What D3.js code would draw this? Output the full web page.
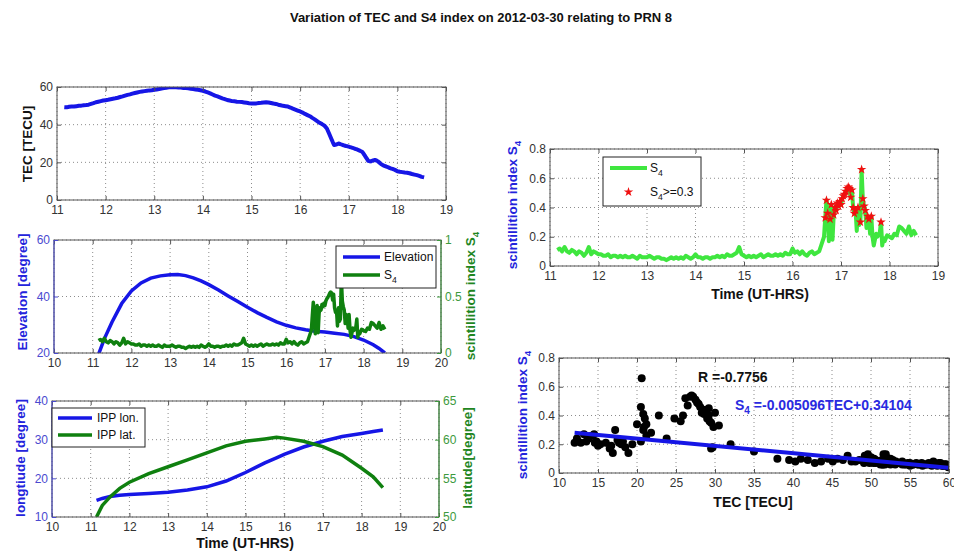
<!DOCTYPE html>
<html>
<head>
<meta charset="utf-8">
<script src="https://cdn.jsdelivr.net/npm/d3@7"></script>
<style>
body { margin: 0; background: #fff; }
text { font-family: "Liberation Sans", Arial, sans-serif; }
</style>
</head>
<body>
<div class="vis-prn8"></div>
<script>
// ---- data ----
const timeHrs = [
    11.15, 11.20, 11.25, 11.30, 11.35, 11.40, 11.45, 11.50, 11.55, 11.60,
    11.65, 11.70, 11.75, 11.80, 11.85, 11.90, 11.95, 12.00, 12.05, 12.10,
    12.15, 12.20, 12.25, 12.30, 12.35, 12.40, 12.45, 12.50, 12.55, 12.60,
    12.65, 12.70, 12.75, 12.80, 12.85, 12.90, 12.95, 13.00, 13.05, 13.10,
    13.15, 13.20, 13.25, 13.30, 13.35, 13.40, 13.45, 13.50, 13.55, 13.60,
    13.65, 13.70, 13.75, 13.80, 13.85, 13.90, 13.95, 14.00, 14.05, 14.10,
    14.15, 14.20, 14.25, 14.30, 14.35, 14.40, 14.45, 14.50, 14.55, 14.60,
    14.65, 14.70, 14.75, 14.80, 14.85, 14.90, 14.95, 15.00, 15.05, 15.10,
    15.15, 15.20, 15.25, 15.30, 15.35, 15.40, 15.45, 15.50, 15.55, 15.60,
    15.65, 15.70, 15.75, 15.80, 15.85, 15.90, 15.95, 16.00, 16.05, 16.10,
    16.15, 16.20, 16.25, 16.30, 16.35, 16.40, 16.45, 16.50, 16.55, 16.60,
    16.65,
    16.675, 16.700, 16.725, 16.750, 16.775, 16.800, 16.825, 16.850, 16.875, 16.900,
    16.925, 16.950, 16.975, 17.000, 17.025, 17.050, 17.075, 17.100, 17.125, 17.150,
    17.175, 17.200, 17.225, 17.250, 17.275, 17.300, 17.325, 17.350, 17.375, 17.400,
    17.425, 17.450, 17.475, 17.500, 17.525, 17.550, 17.575, 17.600, 17.625, 17.650,
    17.675, 17.700, 17.725, 17.750, 17.775, 17.800, 17.825, 17.850, 17.875, 17.900,
    17.95, 18.00, 18.05, 18.10, 18.15, 18.20, 18.25, 18.30, 18.35, 18.40,
    18.45, 18.50, 18.55
];
const tecTecu = [
    49.3, 49.2, 49.5, 49.6, 49.6, 49.8, 50.0, 50.1, 50.3, 50.4,
    50.6, 51.0, 51.4, 51.9, 52.2, 52.5, 52.8, 53.0, 53.2, 53.5,
    53.8, 54.0, 54.3, 54.7, 55.0, 55.4, 55.8, 56.1, 56.5, 56.8,
    57.1, 57.4, 57.6, 57.8, 58.0, 58.2, 58.3, 58.5, 58.7, 58.9,
    59.2, 59.4, 59.6, 59.8, 59.9, 59.9, 59.8, 59.7, 59.7, 59.5,
    59.4, 59.3, 59.1, 58.9, 58.7, 58.5, 58.3, 58.0, 57.6, 57.1,
    56.6, 56.0, 55.4, 55.0, 54.5, 54.0, 53.6, 53.1, 52.8, 52.5,
    52.4, 52.2, 52.1, 52.0, 51.8, 51.6, 51.4, 51.3, 51.2, 51.3,
    51.5, 51.6, 51.8, 51.9, 51.8, 51.5, 51.2, 51.0, 50.6, 50.3,
    50.0, 49.8, 49.6, 49.1, 48.5, 48.0, 47.5, 47.0, 46.4, 45.7,
    45.1, 44.5, 43.6, 42.8, 41.9, 41.0, 40.3, 39.5, 38.0, 35.0,
    32.0,
    30.5, 29.2, 29.3, 29.5, 29.8, 30.0, 29.7, 29.5, 29.2, 29.0,
    28.8, 28.6, 28.5, 28.3, 28.1, 27.9, 27.7, 27.5, 27.2, 27.0,
    26.8, 26.5, 26.2, 25.9, 25.6, 24.8, 23.8, 22.8, 21.8, 20.8,
    20.6, 20.5, 20.8, 21.0, 21.2, 21.2, 20.9, 20.5, 20.0, 19.4,
    18.9, 18.5, 18.2, 18.0, 17.7, 17.5, 17.2, 16.9, 16.7, 16.5,
    16.0, 15.3, 15.0, 14.8, 14.6, 14.5, 14.2, 13.8, 13.5, 13.2,
    12.8, 12.3, 12.0
];
const s4Index = [
    0.11, 0.12, 0.10, 0.13, 0.10, 0.09, 0.11, 0.10, 0.08, 0.10,
    0.09, 0.07, 0.09, 0.13, 0.08, 0.10, 0.09, 0.08, 0.08, 0.07,
    0.07, 0.08, 0.06, 0.07, 0.07, 0.06, 0.07, 0.06, 0.07, 0.06,
    0.06, 0.07, 0.06, 0.05, 0.07, 0.06, 0.06, 0.06, 0.07, 0.06,
    0.05, 0.06, 0.06, 0.05, 0.05, 0.04, 0.05, 0.06, 0.05, 0.06,
    0.05, 0.06, 0.05, 0.07, 0.06, 0.05, 0.06, 0.08, 0.06, 0.06,
    0.05, 0.06, 0.06, 0.05, 0.06, 0.06, 0.07, 0.06, 0.07, 0.06,
    0.08, 0.07, 0.07, 0.08, 0.09, 0.13, 0.08, 0.07, 0.06, 0.07,
    0.06, 0.07, 0.06, 0.07, 0.08, 0.06, 0.07, 0.08, 0.07, 0.07,
    0.08, 0.07, 0.08, 0.07, 0.09, 0.08, 0.08, 0.12, 0.09, 0.10,
    0.08, 0.10, 0.08, 0.07, 0.09, 0.10, 0.08, 0.09, 0.10, 0.15,
    0.20,
    0.33, 0.45, 0.36, 0.17, 0.32, 0.42, 0.18, 0.35, 0.40, 0.38,
    0.43, 0.41, 0.44, 0.42, 0.46, 0.48, 0.49, 0.51, 0.53, 0.54,
    0.53, 0.47, 0.52, 0.40, 0.36, 0.38, 0.24, 0.40, 0.28, 0.30,
    0.66, 0.46, 0.41, 0.38, 0.26, 0.34, 0.32, 0.22, 0.34, 0.20,
    0.14, 0.18, 0.22, 0.20, 0.21, 0.23, 0.30, 0.14, 0.19, 0.17,
    0.21, 0.20, 0.19, 0.22, 0.21, 0.27, 0.26, 0.24, 0.22, 0.27,
    0.21, 0.24, 0.21
];

const elevTime = [11.15, 11.3, 11.5, 11.75, 12.0, 12.25, 12.5, 12.75, 13.0, 13.2, 13.4, 13.6, 13.8, 14.0, 14.25, 14.5,
    14.75, 15.0, 15.25, 15.5, 15.75, 16.0, 16.25, 16.5, 16.75, 17.0, 17.25, 17.5, 17.75, 18.0, 18.25, 18.4, 18.55];
const elevDeg = [19.5, 25.0, 31.0, 37.5, 42.0, 44.8, 46.5, 47.3, 47.7, 47.8, 47.4, 46.6, 45.5, 44.2, 42.3, 40.2,
    38.2, 36.2, 34.3, 32.6, 31.0, 29.8, 28.9, 28.2, 27.7, 27.4, 27.0, 26.6, 25.8, 24.6, 22.9, 21.6, 20.0];

const ippTime = [11.15, 11.3, 11.5, 11.75, 12.0, 12.5, 13.0, 13.5, 14.0, 14.5, 15.0, 15.5, 15.8, 16.0, 16.5, 17.0, 17.5, 18.0, 18.3, 18.55];
const ippLon = [14.3, 14.8, 15.3, 15.6, 15.8, 16.1, 16.4, 17.0, 17.8, 19.3, 21.5, 24.0, 25.3, 26.2, 28.1, 29.6, 30.8, 31.6, 32.1, 32.5];
const ippLat = [50.0, 51.5, 52.6, 53.7, 54.5, 55.6, 56.5, 57.4, 58.3, 59.2, 59.8, 60.1, 60.3, 60.2, 59.8, 59.1, 58.0, 56.3, 55.2, 53.8];

const s4Threshold = 0.3;
const fitSlope = -0.005096;
const fitIntercept = 0.34104;
const corrR = -0.7756;

const ticks = {
    hours8: [11, 12, 13, 14, 15, 16, 17, 18, 19],
    hours10: [10, 11, 12, 13, 14, 15, 16, 17, 18, 19, 20],
    tec: [0, 20, 40, 60],
    elev: [20, 40, 60],
    s4Right: [0, 0.5, 1],
    lon: [10, 20, 30, 40],
    lat: [50, 55, 60, 65],
    s4: [0, 0.2, 0.4, 0.6, 0.8],
    tecX: [10, 15, 20, 25, 30, 35, 40, 45, 50, 55, 60]
};

// ---- colours ----
const GRID = '#8c8c8c';
const BOX = '#555';
const TXT = '#333';
const AX_BLUE = '#4a4ad0';
const AX_GREEN = '#3d9a3d';
const LBL_BLUE = '#2323dc';
const LBL_GREEN = '#1f861f';
const LINE_BLUE = '#1616e6';
const DARK_GREEN = '#0f800f';
const BRIGHT_GREEN = '#3fe63f';

const svg = d3.select('.vis-prn8').append('svg')
    .attr('width', 954)
    .attr('height', 555);

const rows = timeHrs.map((t, i) => ({ t: t, tec: tecTecu[i], s4: s4Index[i] }));

function panel(cfg) {
    const b = cfg.box;
    const x = d3.scaleLinear().domain(cfg.xDomain).range([b.left, b.right]);
    const y = d3.scaleLinear().domain(cfg.yDomain).range([b.bottom, b.top]);
    const y2 = cfg.y2Domain ? d3.scaleLinear().domain(cfg.y2Domain).range([b.bottom, b.top]) : null;
    const g = svg.append('g').attr('class', 'panel-' + cfg.name);

    // dotted grid
    g.append('g').selectAll('line').data(cfg.xTicks).join('line')
        .attr('x1', d => x(d)).attr('x2', d => x(d))
        .attr('y1', b.top).attr('y2', b.bottom)
        .attr('stroke', GRID).attr('stroke-dasharray', '1,3');
    g.append('g').selectAll('line').data(cfg.yTicks).join('line')
        .attr('y1', d => y(d)).attr('y2', d => y(d))
        .attr('x1', b.left).attr('x2', b.right)
        .attr('stroke', GRID).attr('stroke-dasharray', '1,3');

    g.append('clipPath').attr('id', 'clip-' + cfg.name)
        .append('rect')
        .attr('x', b.left).attr('y', b.top)
        .attr('width', b.right - b.left).attr('height', b.bottom - b.top);
    const plot = g.append('g').attr('clip-path', 'url(#clip-' + cfg.name + ')');

    return { g, plot, x, y, y2, b, cfg };
}

function styleAxis(sel, color, lineColor) {
    sel.attr('font-size', 12).attr('font-family', '"Liberation Sans", Arial, sans-serif');
    sel.select('.domain').remove();
    sel.selectAll('.tick line').attr('stroke', lineColor || BOX);
    sel.selectAll('.tick text').attr('fill', color);
}

function axes(p) {
    const b = p.b, cfg = p.cfg;
    const fmt = d => String(d);
    const leftColor = cfg.y2Domain ? AX_BLUE : TXT;

    p.g.append('rect')
        .attr('x', b.left).attr('y', b.top)
        .attr('width', b.right - b.left).attr('height', b.bottom - b.top)
        .attr('fill', 'none').attr('stroke', BOX);

    p.g.append('g').attr('transform', 'translate(0,' + b.bottom + ')')
        .call(d3.axisBottom(p.x).tickValues(cfg.xTicks).tickFormat(fmt).tickSizeInner(-4).tickSizeOuter(0).tickPadding(5))
        .call(s => styleAxis(s, TXT));
    p.g.append('g').attr('transform', 'translate(0,' + b.top + ')')
        .call(d3.axisTop(p.x).tickValues(cfg.xTicks).tickFormat('').tickSizeInner(-4).tickSizeOuter(0))
        .call(s => styleAxis(s, TXT));

    p.g.append('g').attr('transform', 'translate(' + b.left + ',0)')
        .call(d3.axisLeft(p.y).tickValues(cfg.yTicks).tickFormat(fmt).tickSizeInner(-4).tickSizeOuter(0).tickPadding(4))
        .call(s => styleAxis(s, leftColor, cfg.y2Domain ? AX_BLUE : BOX));

    if (p.y2) {
        p.g.append('g').attr('transform', 'translate(' + b.right + ',0)')
            .call(d3.axisRight(p.y2).tickValues(cfg.y2Ticks).tickFormat(fmt).tickSizeInner(-4).tickSizeOuter(0).tickPadding(4))
            .call(s => styleAxis(s, AX_GREEN, AX_GREEN));
        p.g.append('line')
            .attr('x1', b.left).attr('x2', b.left).attr('y1', b.top).attr('y2', b.bottom)
            .attr('stroke', AX_BLUE);
        p.g.append('line')
            .attr('x1', b.right).attr('x2', b.right).attr('y1', b.top).attr('y2', b.bottom)
            .attr('stroke', AX_GREEN);
    } else {
        p.g.append('g').attr('transform', 'translate(' + b.right + ',0)')
            .call(d3.axisRight(p.y).tickValues(cfg.yTicks).tickFormat('').tickSizeInner(-4).tickSizeOuter(0))
            .call(s => styleAxis(s, TXT));
    }
}

// S with subscript 4, plus optional tail
function s4Label(text, tail) {
    text.append('tspan').text('S');
    text.append('tspan').attr('dy', 4).attr('font-size', '0.72em').text('4');
    if (tail) text.append('tspan').attr('dy', -4).text(tail);
}

function yLabel(x, y, color, str, withS4) {
    const t = svg.append('text')
        .attr('transform', 'translate(' + x + ',' + y + ') rotate(-90)')
        .attr('text-anchor', 'middle')
        .attr('dy', '0.35em')
        .attr('font-size', 13.5)
        .attr('font-weight', 'bold')
        .attr('fill', color);
    t.append('tspan').text(str);
    if (withS4) s4Label(t);
}

function xLabel(x, y, str) {
    svg.append('text')
        .attr('x', x).attr('y', y)
        .attr('text-anchor', 'middle')
        .attr('font-size', 14)
        .attr('font-weight', 'bold')
        .attr('fill', '#111')
        .text(str);
}

function lineOf(xs, ys, sx, sy) {
    return d3.line().x(i => sx(xs[i])).y(i => sy(ys[i]))(d3.range(xs.length));
}

function legendBox(g, box, items) {
    const lg = g.append('g').attr('class', 'legend');
    lg.append('rect')
        .attr('x', box.x).attr('y', box.y).attr('width', box.w).attr('height', box.h)
        .attr('fill', '#fff').attr('stroke', '#222');
    items.forEach(it => {
        if (it.kind === 'line') {
            lg.append('line')
                .attr('x1', it.x1).attr('x2', it.x2).attr('y1', it.y).attr('y2', it.y)
                .attr('stroke', it.color).attr('stroke-width', it.width);
        } else {
            lg.append('path')
                .attr('transform', 'translate(' + (it.x1 + it.x2) / 2 + ',' + it.y + ')')
                .attr('d', d3.symbol(d3.symbolStar, 28)())
                .attr('fill', it.color);
        }
        const t = lg.append('text')
            .attr('x', it.tx).attr('y', it.y).attr('dy', '0.35em')
            .attr('font-size', 12).attr('fill', '#111');
        if (it.s4) s4Label(t, it.tail);
        else t.text(it.label);
    });
}

// ---- title ----
svg.append('text')
    .attr('x', 481).attr('y', 22)
    .attr('text-anchor', 'middle')
    .attr('font-size', 13)
    .attr('font-weight', 'bold')
    .attr('fill', '#111')
    .text('Variation of TEC and S4 index on 2012-03-30 relating to PRN 8');

// ---- panel 1: TEC ----
const p1 = panel({
    name: 'tec', box: { left: 57, right: 446, top: 87, bottom: 200 },
    xDomain: [11, 19], xTicks: ticks.hours8, yDomain: [0, 60], yTicks: ticks.tec
});
p1.plot.append('path')
    .attr('d', lineOf(timeHrs, tecTecu, p1.x, p1.y))
    .attr('fill', 'none').attr('stroke', LINE_BLUE).attr('stroke-width', 4)
    .attr('stroke-linejoin', 'round');
axes(p1);
yLabel(27, 144, '#111', 'TEC [TECU]');

// ---- panel 2: elevation + S4 ----
const p2 = panel({
    name: 'elev', box: { left: 54, right: 441, top: 240, bottom: 353 },
    xDomain: [10, 20], xTicks: ticks.hours10, yDomain: [20, 60], yTicks: ticks.elev,
    y2Domain: [0, 1], y2Ticks: ticks.s4Right
});
p2.plot.append('path')
    .attr('d', lineOf(elevTime, elevDeg, p2.x, p2.y))
    .attr('fill', 'none').attr('stroke', LINE_BLUE).attr('stroke-width', 3.5);
p2.plot.append('path')
    .attr('d', lineOf(timeHrs, s4Index, p2.x, p2.y2))
    .attr('fill', 'none').attr('stroke', DARK_GREEN).attr('stroke-width', 3.5)
    .attr('stroke-linejoin', 'round');
axes(p2);
legendBox(p2.g, { x: 336, y: 246, w: 100, h: 42 }, [
    { kind: 'line', x1: 343, x2: 380, y: 257, color: LINE_BLUE, width: 3.5, tx: 384, label: 'Elevation' },
    { kind: 'line', x1: 343, x2: 380, y: 275, color: DARK_GREEN, width: 3.5, tx: 384, s4: true }
]);
yLabel(22, 292, LBL_BLUE, 'Elevation [degree]');
yLabel(470, 296, LBL_GREEN, 'scintillition index ', true);

// ---- panel 3: IPP lon / lat ----
const p3 = panel({
    name: 'ipp', box: { left: 52, right: 439, top: 401, bottom: 517 },
    xDomain: [10, 20], xTicks: ticks.hours10, yDomain: [10, 40], yTicks: ticks.lon,
    y2Domain: [50, 65], y2Ticks: ticks.lat
});
p3.plot.append('path')
    .attr('d', lineOf(ippTime, ippLon, p3.x, p3.y))
    .attr('fill', 'none').attr('stroke', LINE_BLUE).attr('stroke-width', 3.5);
p3.plot.append('path')
    .attr('d', lineOf(ippTime, ippLat, p3.x, p3.y2))
    .attr('fill', 'none').attr('stroke', DARK_GREEN).attr('stroke-width', 3.5);
axes(p3);
legendBox(p3.g, { x: 52, y: 408, w: 93, h: 39 }, [
    { kind: 'line', x1: 58, x2: 92, y: 418, color: LINE_BLUE, width: 3.5, tx: 97, label: 'IPP lon.' },
    { kind: 'line', x1: 58, x2: 92, y: 435, color: DARK_GREEN, width: 3.5, tx: 97, label: 'IPP lat.' }
]);
yLabel(20, 458, LBL_BLUE, 'longtiude [degree]');
yLabel(467, 458, LBL_GREEN, 'latitude[degree]');
xLabel(245, 548, 'Time (UT-HRS)');

// ---- panel 4: S4 time series ----
const p4 = panel({
    name: 's4', box: { left: 550, right: 938, top: 149, bottom: 266 },
    xDomain: [11, 19], xTicks: ticks.hours8, yDomain: [0, 0.8], yTicks: ticks.s4
});
p4.plot.append('path')
    .attr('d', lineOf(timeHrs, s4Index, p4.x, p4.y))
    .attr('fill', 'none').attr('stroke', BRIGHT_GREEN).attr('stroke-width', 4)
    .attr('stroke-linejoin', 'round');
p4.plot.selectAll('.star')
    .data(rows.filter(d => d.s4 >= s4Threshold))
    .join('path')
    .attr('class', 'star')
    .attr('transform', d => 'translate(' + p4.x(d.t) + ',' + p4.y(d.s4) + ')')
    .attr('d', d3.symbol(d3.symbolStar, 28)())
    .attr('fill', '#f01010');
axes(p4);
legendBox(p4.g, { x: 603, y: 157, w: 98, h: 49 }, [
    { kind: 'line', x1: 610, x2: 647, y: 168, color: BRIGHT_GREEN, width: 4, tx: 650, s4: true },
    { kind: 'star', x1: 610, x2: 647, y: 192, color: '#f01010', tx: 650, s4: true, tail: '>=0.3' }
]);
yLabel(512, 205, LBL_BLUE, 'scintillition index ', true);
xLabel(760, 299, 'Time (UT-HRS)');

// ---- panel 5: S4 vs TEC scatter ----
const p5 = panel({
    name: 'scatter', box: { left: 559, right: 949, top: 358, bottom: 473 },
    xDomain: [10, 60], xTicks: ticks.tecX, yDomain: [0, 0.8], yTicks: ticks.s4
});
p5.plot.selectAll('circle')
    .data(rows)
    .join('circle')
    .attr('cx', d => p5.x(d.tec))
    .attr('cy', d => p5.y(d.s4))
    .attr('r', 4)
    .attr('fill', '#000');
const tecExtent = d3.extent(tecTecu);
p5.plot.append('line')
    .attr('x1', p5.x(tecExtent[0])).attr('y1', p5.y(fitSlope * tecExtent[0] + fitIntercept))
    .attr('x2', p5.x(tecExtent[1])).attr('y2', p5.y(fitSlope * tecExtent[1] + fitIntercept))
    .attr('stroke', LINE_BLUE).attr('stroke-width', 4);
axes(p5);
p5.g.append('text')
    .attr('x', 698).attr('y', 382)
    .attr('font-size', 14).attr('font-weight', 'bold').attr('fill', '#111')
    .text('R =' + corrR);
const eq = p5.g.append('text')
    .attr('x', 735).attr('y', 410)
    .attr('font-size', 14).attr('font-weight', 'bold').attr('fill', '#2a2ae0');
s4Label(eq, ' =' + fitSlope.toFixed(6) + 'TEC+' + fitIntercept);
yLabel(522, 415, LBL_BLUE, 'scintillition index ', true);
xLabel(753, 507, 'TEC [TECU]');
</script>
</body>
</html>
